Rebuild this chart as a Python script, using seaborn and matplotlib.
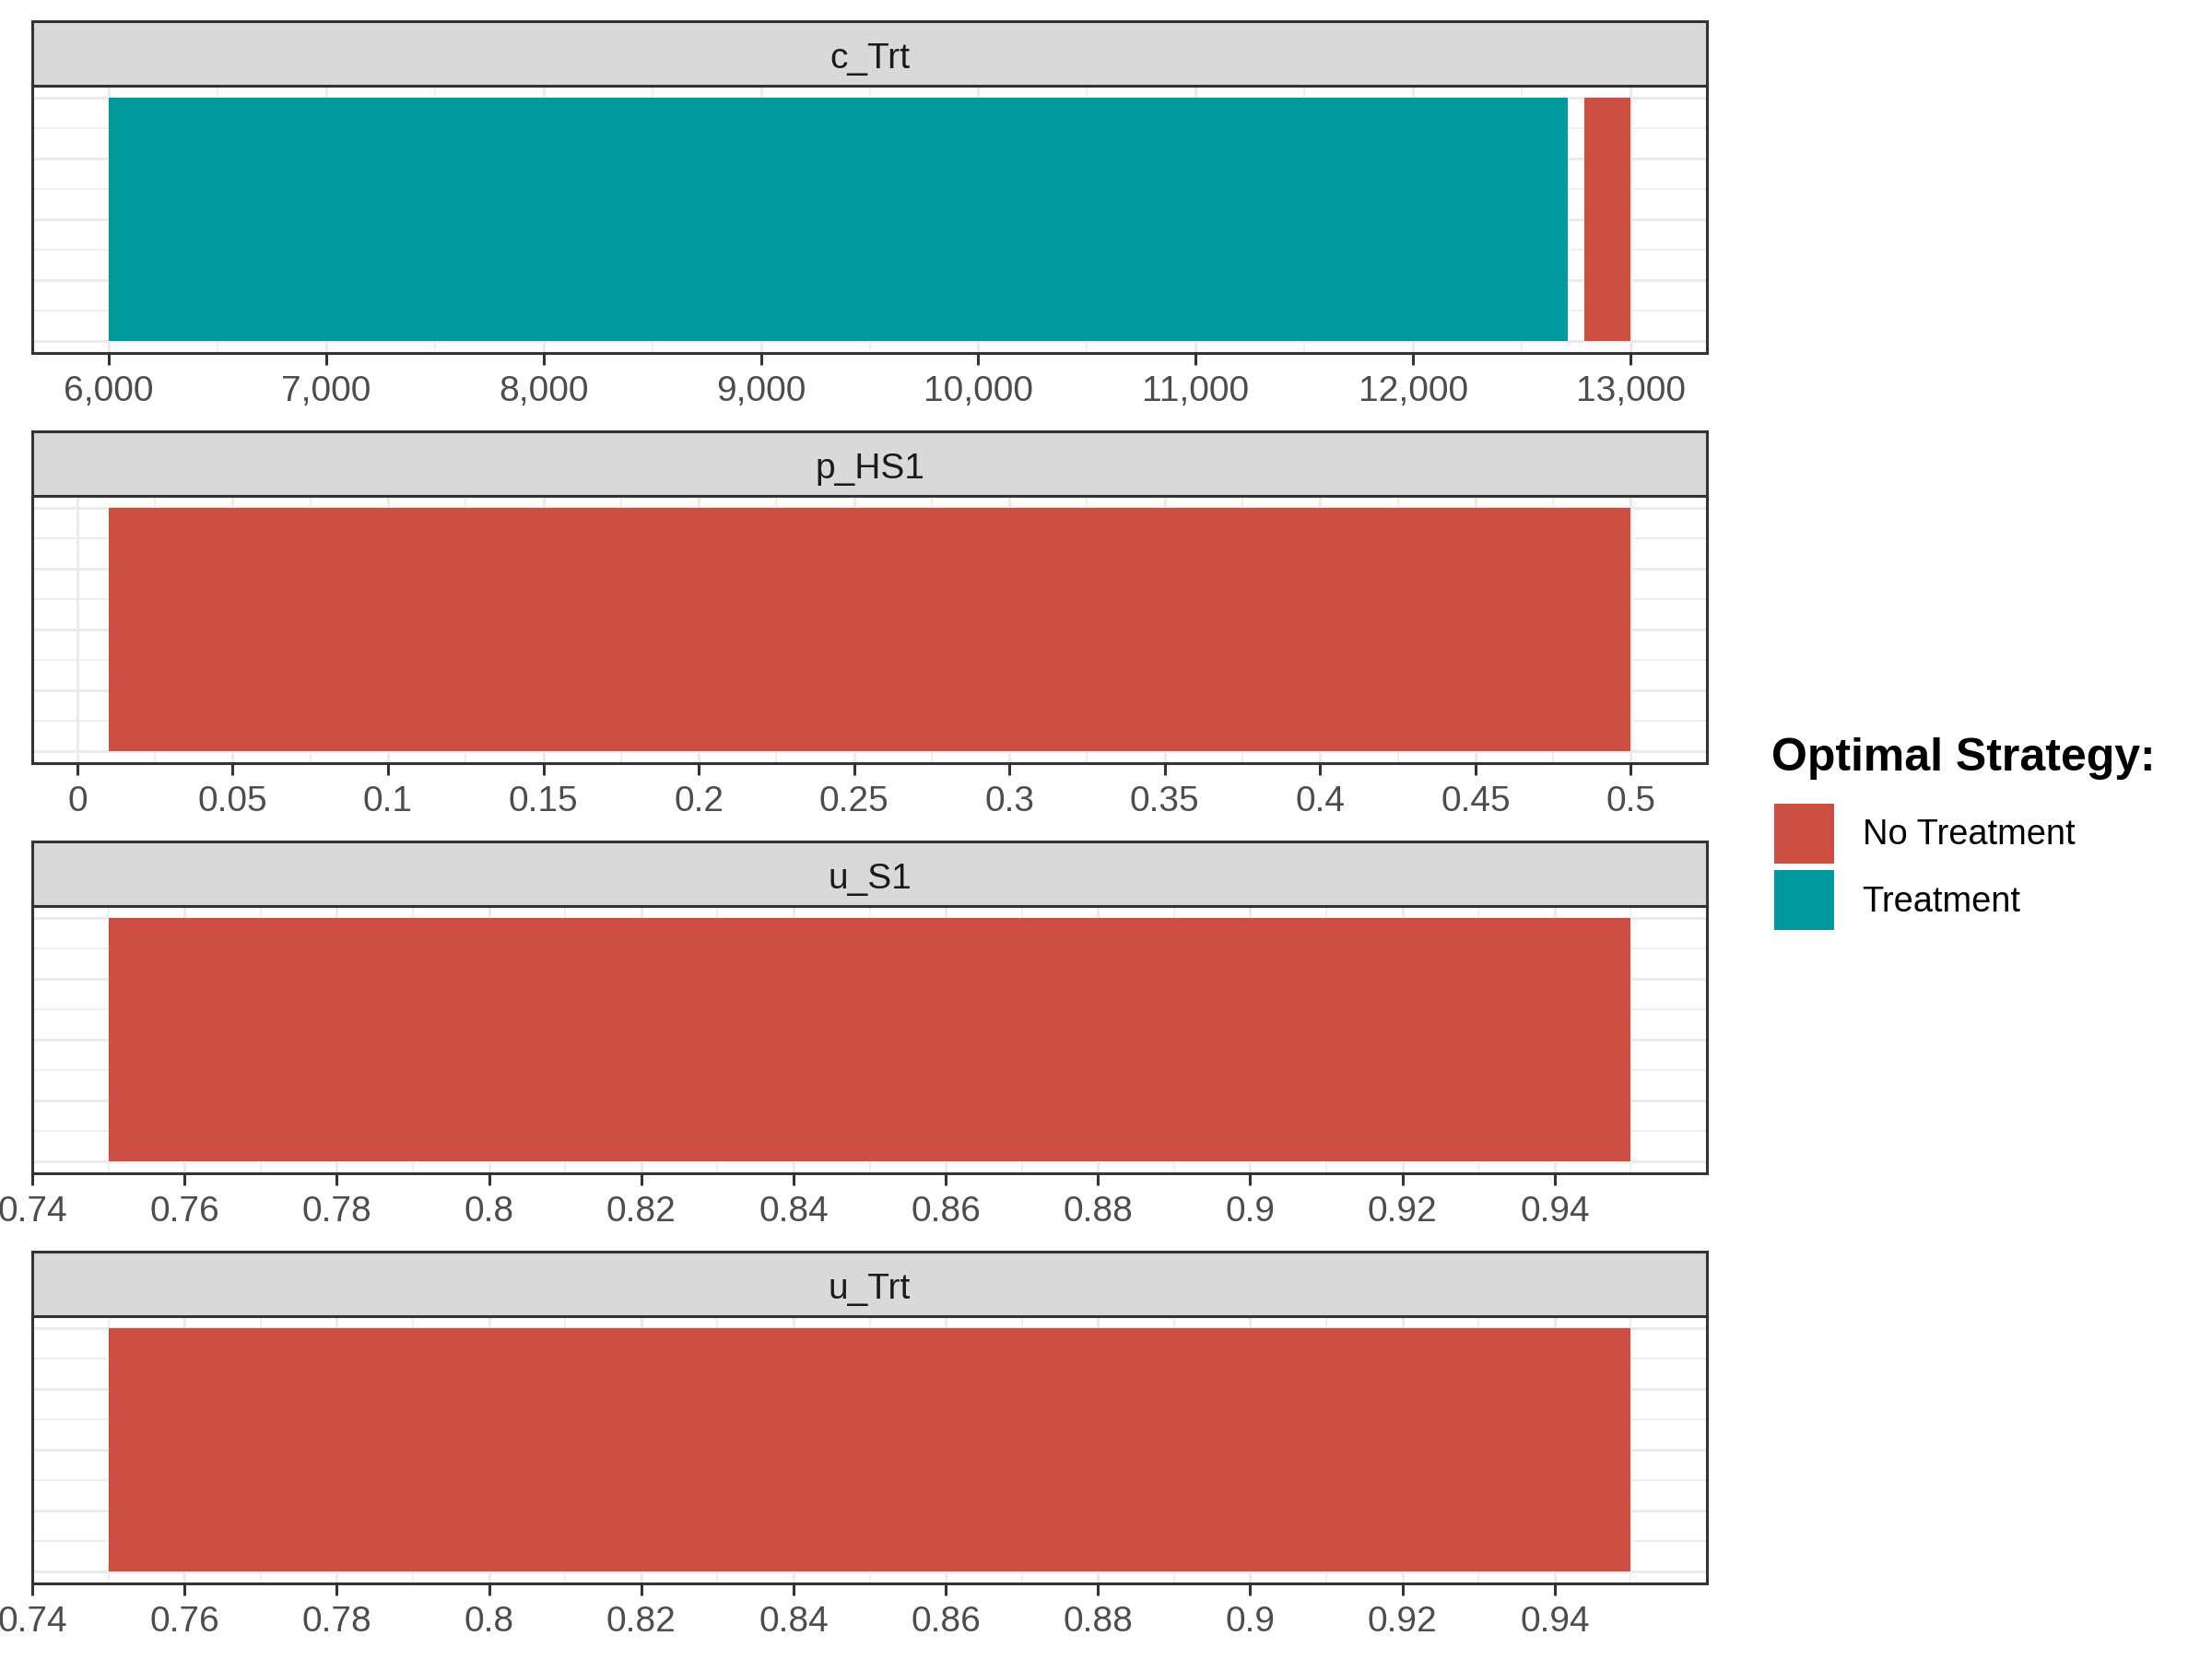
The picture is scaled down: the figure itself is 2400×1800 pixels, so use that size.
import numpy as np
import matplotlib.pyplot as plt
from matplotlib.patches import Patch
from matplotlib.ticker import FixedLocator, FuncFormatter
import seaborn as sns

sns.set_theme(style="white")
plt.rcParams["font.family"] = ["Liberation Sans", "DejaVu Sans"]

params = ["c_Trt", "p_HS1", "u_S1", "u_Trt"]

# ranges of each parameter where a strategy is optimal
seg_param = ["c_Trt", "c_Trt", "p_HS1", "u_S1", "u_Trt"]
seg_start = [6000, 12785, 0.01, 0.75, 0.75]
seg_end = [12710, 13000, 0.5, 0.95, 0.95]
seg_strategy = ["Treatment", "No Treatment", "No Treatment", "No Treatment", "No Treatment"]

# full range tested for each parameter
param_min = [6000, 0.01, 0.75, 0.75]
param_max = [13000, 0.5, 0.95, 0.95]

tick_c_trt = [6000, 7000, 8000, 9000, 10000, 11000, 12000, 13000]
tick_p_hs1 = [0, 0.05, 0.1, 0.15, 0.2, 0.25, 0.3, 0.35, 0.4, 0.45, 0.5]
tick_u = [0.74, 0.76, 0.78, 0.8, 0.82, 0.84, 0.86, 0.88, 0.9, 0.92, 0.94]
x_ticks = [tick_c_trt, tick_p_hs1, tick_u, tick_u]

strategies = ["No Treatment", "Treatment"]
colors = {"No Treatment": "#CB4E43", "Treatment": "#00999B"}

border = "#333333"
grid_col = "#EBEBEB"

fig = plt.figure(figsize=(12, 9), dpi=200)
W, H = 2400, 1800
left_px, right_px = 35, 1852

for i, p in enumerate(params):
    s_top = 23 + 445 * i
    s_bot = s_top + 70
    p_bot = s_bot + 290

    ax = fig.add_axes([left_px / W, 1 - p_bot / H, (right_px - left_px) / W, 290 / H])
    sax = fig.add_axes([left_px / W, 1 - s_bot / H, (right_px - left_px) / W, 70 / H])

    for ps, a, b, st in zip(seg_param, seg_start, seg_end, seg_strategy):
        if ps == p:
            ax.barh(0.5, b - a, left=a, height=1, color=colors[st], edgecolor="none", zorder=2)

    lo, hi = param_min[i], param_max[i]
    pad = (hi - lo) * 0.05
    ax.set_xlim(lo - pad, hi + pad)
    ax.set_ylim(-0.05, 1.05)

    ticks = x_ticks[i]
    step = ticks[1] - ticks[0]
    minor = np.arange(ticks[0] - step / 2, ticks[-1] + step, step)
    minor = [m for m in minor if lo - pad <= m <= hi + pad]
    ax.xaxis.set_major_locator(FixedLocator(ticks))
    ax.xaxis.set_minor_locator(FixedLocator(minor))
    if p == "c_Trt":
        ax.xaxis.set_major_formatter(FuncFormatter(lambda v, pos: f"{v:,.0f}"))
    else:
        ax.xaxis.set_major_formatter(FuncFormatter(lambda v, pos: f"{round(v, 4):g}"))

    ax.yaxis.set_major_locator(FixedLocator([0, 0.25, 0.5, 0.75, 1]))
    ax.yaxis.set_minor_locator(FixedLocator([0.125, 0.375, 0.625, 0.875]))
    ax.set_yticklabels([])

    ax.set_axisbelow(True)
    ax.grid(which="major", color=grid_col, lw=1.1)
    ax.grid(which="minor", color=grid_col, lw=0.55)
    ax.tick_params(axis="x", which="major", length=4.5, width=1.1, color=border,
                   labelcolor="#4D4D4D", labelsize=14, pad=4, bottom=True)
    ax.tick_params(which="minor", length=0)
    ax.tick_params(axis="y", which="major", length=0)
    for sp in ax.spines.values():
        sp.set_color(border)
        sp.set_linewidth(1.1)
        sp.set_visible(True)

    sax.set_facecolor("#D9D9D9")
    sax.set_xticks([])
    sax.set_yticks([])
    for sp in sax.spines.values():
        sp.set_color(border)
        sp.set_linewidth(1.1)
        sp.set_visible(True)
    sax.text(0.5, 0.465, p, ha="center", va="center_baseline", fontsize=14, color="#1A1A1A",
             transform=sax.transAxes)

# legend: title as its own text, keys below it
fig.text(1922 / W, 1 - 823 / H, "Optimal Strategy:", ha="left", va="center",
         fontsize=18, fontweight="bold", color="black")
handles = [Patch(facecolor=colors[s], edgecolor="none", label=s) for s in strategies]
leg = fig.legend(handles=handles, loc="upper left",
                 bbox_to_anchor=(1925 / W, 1 - 872 / H), frameon=False,
                 fontsize=13.7, labelcolor="black",
                 handlelength=1.71, handleheight=2.25, labelspacing=0.19,
                 handletextpad=0.8, borderpad=0, borderaxespad=0)

fig.savefig("out.png", dpi=200)
